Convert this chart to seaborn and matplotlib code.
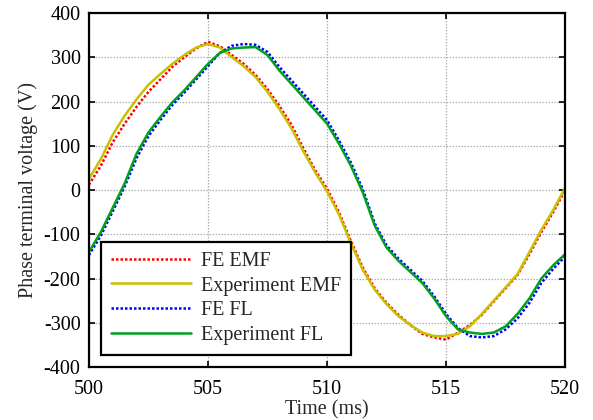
import matplotlib
matplotlib.use("Agg")
import matplotlib.pyplot as plt
import seaborn as sns
import numpy as np

time_ms = [500, 500.5, 501, 501.5, 502, 502.5, 503, 503.5, 504, 504.5, 505, 505.5,
           506, 506.5, 507, 507.5, 508, 508.5, 509, 509.5, 510, 510.5, 511, 511.5,
           512, 512.5, 513, 513.5, 514, 514.5, 515, 515.5, 516, 516.5, 517, 517.5,
           518, 518.5, 519, 519.5, 520]

fe_emf = [12, 55, 108, 150, 188, 222, 250, 278, 300, 320, 335, 325,
          305, 285, 260, 228, 190, 148, 95, 45, 3, -50, -115, -175,
          -222, -255, -282, -305, -325, -333, -338, -322, -305, -282, -252, -222,
          -192, -145, -95, -50, 0]

exp_emf = [25, 70, 125, 168, 205, 238, 262, 285, 305, 322, 330, 322,
           300, 280, 255, 222, 183, 140, 88, 40, -3, -55, -120, -180,
           -225, -258, -285, -305, -322, -330, -330, -325, -308, -280, -250, -220,
           -190, -140, -90, -45, 5]

fe_fl = [-147, -103, -48, 8, 72, 122, 158, 192, 220, 250, 280, 310,
         326, 330, 328, 312, 278, 248, 218, 188, 158, 112, 62, 2,
         -75, -125, -155, -180, -205, -240, -280, -312, -330, -333, -330, -315,
         -290, -255, -210, -178, -150]

exp_fl = [-140, -95, -40, 15, 82, 130, 165, 198, 225, 255, 285, 310,
          320, 322, 323, 305, 270, 240, 210, 180, 150, 105, 55, -5,
          -80, -130, -160, -185, -210, -245, -285, -315, -322, -325, -322, -308,
          -280, -245, -200, -170, -145]

series_names = ["FE EMF", "Experiment EMF", "FE FL", "Experiment FL"]
series_vals = [fe_emf, exp_emf, fe_fl, exp_fl]
colors = ["#ff0000", "#c8c000", "#0000ff", "#00a020"]
styles = [(0, (1, 0.8)), "-", (0, (1, 0.8)), "-"]

x_ticks = [500, 505, 510, 515, 520]
y_ticks = [-400, -300, -200, -100, 0, 100, 200, 300, 400]

sns.set_style("ticks")
plt.rcParams['font.family'] = ['Liberation Serif', 'DejaVu Serif']

FS = 14.5

fig = plt.figure(figsize=(5.93, 4.20), dpi=100)
ax = fig.add_axes([0.150, 0.126, 0.803, 0.843])

for name, vals, c, ls in zip(series_names, series_vals, colors, styles):
    sns.lineplot(x=time_ms, y=vals, ax=ax, color=c, linestyle=ls, linewidth=1.8,
                 label=name)

ax.set_xlim(500, 520)
ax.set_ylim(-400, 400)
ax.set_xticks(x_ticks)
ax.set_yticks(y_ticks)
ax.set_xticklabels([str(v) for v in x_ticks])
ax.set_yticklabels([str(v) for v in y_ticks])
ax.tick_params(direction='in', length=4, width=1.2, top=True, right=True,
               labelsize=FS, colors='black')
ax.tick_params(axis='x', pad=9)
ax.tick_params(axis='y', pad=6)
ax.grid(True, linestyle=(0, (1.2, 1.2)), color='#b0b0b0', linewidth=0.9)
for sp in ax.spines.values():
    sp.set_linewidth(1.6)
    sp.set_color('black')
ax.set_xlabel("Time (ms)", fontsize=FS, labelpad=1)
ax.set_ylabel("Phase terminal voltage (V)", fontsize=FS, labelpad=4)

leg = ax.legend(loc='lower left', bbox_to_anchor=(0.025, 0.034), borderaxespad=0,
                fontsize=FS, handlelength=4.0, frameon=True, fancybox=False,
                edgecolor='black', framealpha=1, borderpad=0.5, labelspacing=0.28,
                handletextpad=0.45)
leg.get_frame().set_linewidth(1.6)

fig.savefig("out.png", dpi=100)
